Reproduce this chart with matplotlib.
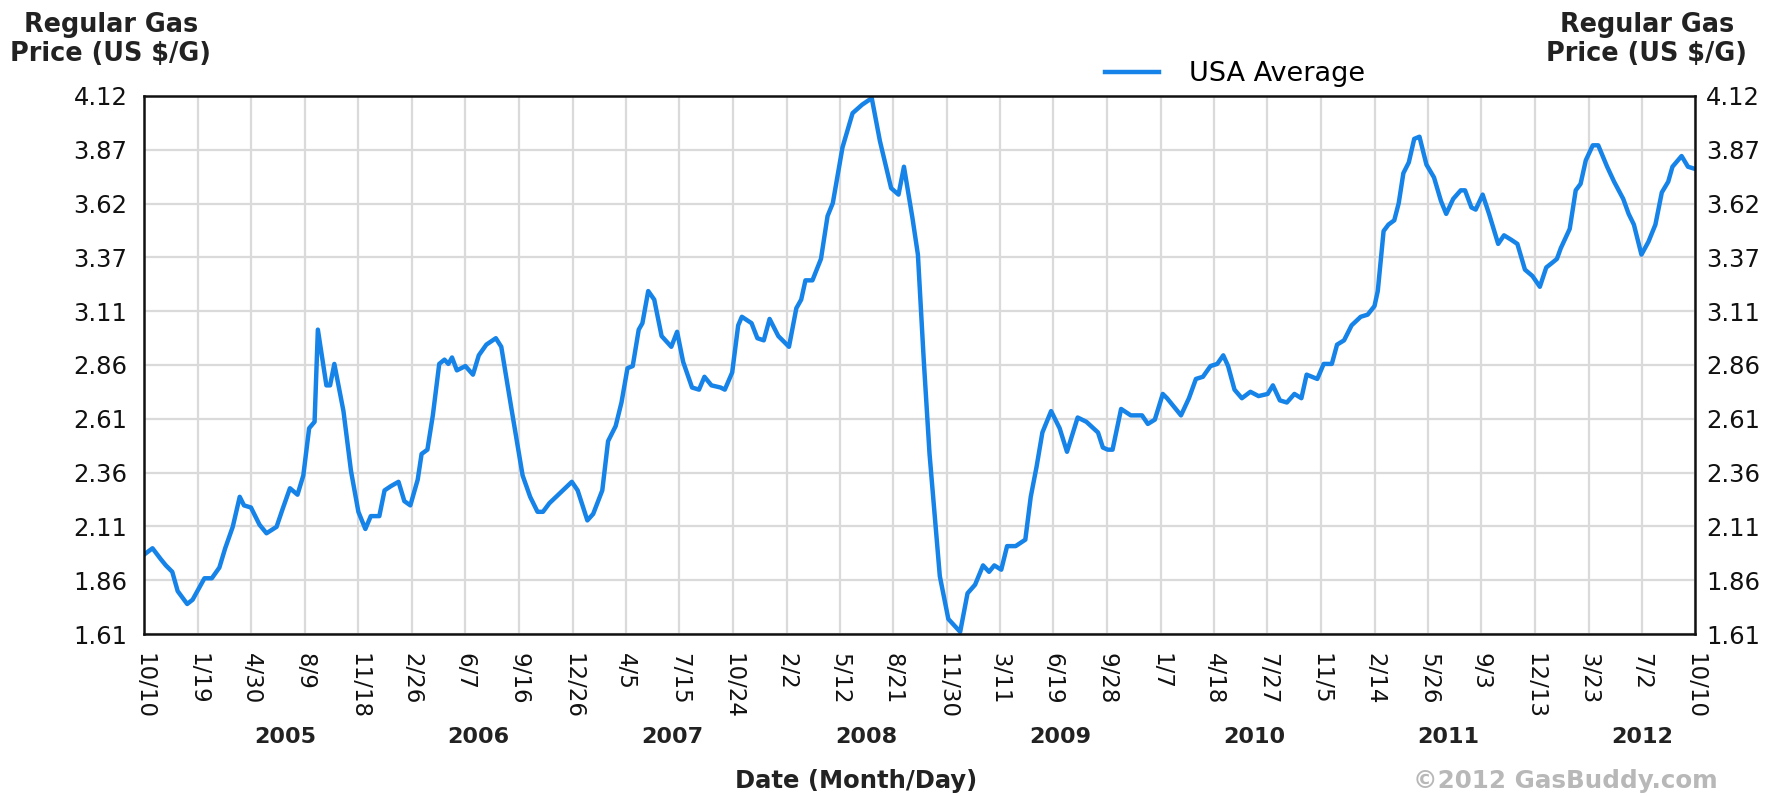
import pandas as pd
import matplotlib
matplotlib.use('Agg')
import matplotlib.pyplot as plt

# weekly-ish USA average regular gas price (decimal year, $/gal)
years = [2004.773, 2004.817, 2004.859, 2004.886, 2004.919, 2004.947, 2004.996, 2005.024,
         2005.085, 2005.123, 2005.162, 2005.192, 2005.231, 2005.267, 2005.289, 2005.325,
         2005.369, 2005.405, 2005.457, 2005.487, 2005.526, 2005.565, 2005.595, 2005.625,
         2005.653, 2005.670, 2005.714, 2005.733, 2005.755, 2005.802, 2005.841, 2005.879,
         2005.915, 2005.943, 2005.987, 2006.014, 2006.047, 2006.086, 2006.116, 2006.147,
         2006.185, 2006.205, 2006.235, 2006.263, 2006.296, 2006.323, 2006.343, 2006.362,
         2006.387, 2006.431, 2006.470, 2006.500, 2006.539, 2006.588, 2006.616, 2006.665,
         2006.726, 2006.765, 2006.803, 2006.831, 2006.864, 2006.922, 2006.980, 2007.010,
         2007.060, 2007.090, 2007.137, 2007.167, 2007.206, 2007.236, 2007.267, 2007.294,
         2007.325, 2007.344, 2007.374, 2007.405, 2007.443, 2007.493, 2007.523, 2007.554,
         2007.600, 2007.636, 2007.664, 2007.700, 2007.747, 2007.769, 2007.807, 2007.838,
         2007.857, 2007.907, 2007.937, 2007.970, 2008.000, 2008.045, 2008.100, 2008.138,
         2008.163, 2008.185, 2008.221, 2008.265, 2008.299, 2008.326, 2008.376, 2008.428,
         2008.478, 2008.527, 2008.569, 2008.627, 2008.665, 2008.693, 2008.737, 2008.765,
         2008.795, 2008.825, 2008.878, 2008.922, 2008.983, 2009.021, 2009.060, 2009.101,
         2009.132, 2009.159, 2009.195, 2009.225, 2009.269, 2009.319, 2009.347, 2009.377,
         2009.407, 2009.452, 2009.496, 2009.534, 2009.589, 2009.634, 2009.694, 2009.719,
         2009.744, 2009.769, 2009.813, 2009.863, 2009.921, 2009.951, 2009.987, 2010.028,
         2010.050, 2010.122, 2010.163, 2010.199, 2010.235, 2010.274, 2010.309, 2010.340,
         2010.365, 2010.398, 2010.436, 2010.480, 2010.522, 2010.569, 2010.596, 2010.632,
         2010.668, 2010.707, 2010.743, 2010.770, 2010.825, 2010.858, 2010.900, 2010.927,
         2010.963, 2011.002, 2011.049, 2011.085, 2011.120, 2011.137, 2011.167, 2011.192,
         2011.222, 2011.245, 2011.269, 2011.297, 2011.325, 2011.352, 2011.388, 2011.427,
         2011.463, 2011.490, 2011.526, 2011.565, 2011.587, 2011.620, 2011.642, 2011.678,
         2011.711, 2011.758, 2011.788, 2011.824, 2011.857, 2011.896, 2011.935, 2011.973,
         2012.006, 2012.034, 2012.061, 2012.081, 2012.127, 2012.158, 2012.183, 2012.210,
         2012.246, 2012.274, 2012.320, 2012.356, 2012.403, 2012.431, 2012.458, 2012.497,
         2012.533, 2012.569, 2012.602, 2012.635, 2012.657, 2012.704, 2012.737, 2012.773]

prices = [1.98, 2.01, 1.96, 1.93, 1.90, 1.81, 1.75, 1.77,
          1.87, 1.87, 1.92, 2.01, 2.11, 2.25, 2.21, 2.20,
          2.12, 2.08, 2.11, 2.19, 2.29, 2.26, 2.35, 2.57,
          2.60, 3.03, 2.77, 2.77, 2.87, 2.65, 2.37, 2.18,
          2.10, 2.16, 2.16, 2.28, 2.30, 2.32, 2.23, 2.21,
          2.33, 2.45, 2.47, 2.63, 2.87, 2.89, 2.87, 2.90,
          2.84, 2.86, 2.82, 2.91, 2.96, 2.99, 2.95, 2.68,
          2.35, 2.25, 2.18, 2.18, 2.22, 2.27, 2.32, 2.28,
          2.14, 2.17, 2.28, 2.51, 2.58, 2.69, 2.85, 2.86,
          3.03, 3.06, 3.21, 3.17, 3.00, 2.95, 3.02, 2.88,
          2.76, 2.75, 2.81, 2.77, 2.76, 2.75, 2.83, 3.05,
          3.09, 3.06, 2.99, 2.98, 3.08, 3.00, 2.95, 3.13,
          3.17, 3.26, 3.26, 3.36, 3.56, 3.62, 3.88, 4.04,
          4.08, 4.11, 3.91, 3.69, 3.66, 3.79, 3.55, 3.38,
          2.89, 2.45, 1.88, 1.68, 1.62, 1.80, 1.84, 1.93,
          1.90, 1.93, 1.91, 2.02, 2.02, 2.05, 2.25, 2.39,
          2.55, 2.65, 2.57, 2.46, 2.62, 2.60, 2.55, 2.48,
          2.47, 2.47, 2.66, 2.63, 2.63, 2.59, 2.61, 2.73,
          2.71, 2.63, 2.71, 2.80, 2.81, 2.86, 2.87, 2.91,
          2.86, 2.75, 2.71, 2.74, 2.72, 2.73, 2.77, 2.70,
          2.69, 2.73, 2.71, 2.82, 2.80, 2.87, 2.87, 2.96,
          2.98, 3.05, 3.09, 3.10, 3.14, 3.21, 3.49, 3.52,
          3.54, 3.62, 3.76, 3.81, 3.92, 3.93, 3.80, 3.74,
          3.63, 3.57, 3.64, 3.68, 3.68, 3.60, 3.59, 3.66,
          3.57, 3.43, 3.47, 3.45, 3.43, 3.31, 3.28, 3.23,
          3.32, 3.34, 3.36, 3.41, 3.50, 3.68, 3.71, 3.82,
          3.89, 3.89, 3.79, 3.72, 3.64, 3.57, 3.52, 3.38,
          3.44, 3.52, 3.67, 3.72, 3.79, 3.84, 3.79, 3.78]

tick_dates = ['2004-10-10', '2005-01-19', '2005-04-30', '2005-08-09', '2005-11-18',
              '2006-02-26', '2006-06-07', '2006-09-16', '2006-12-26', '2007-04-05',
              '2007-07-15', '2007-10-24', '2008-02-02', '2008-05-12', '2008-08-21',
              '2008-11-30', '2009-03-11', '2009-06-19', '2009-09-28', '2010-01-07',
              '2010-04-18', '2010-07-27', '2010-11-05', '2011-02-14', '2011-05-26',
              '2011-09-03', '2011-12-13', '2012-03-23', '2012-07-02', '2012-10-10']
year_labels = [2005, 2006, 2007, 2008, 2009, 2010, 2011, 2012]
y_ticks = [1.61, 1.861, 2.112, 2.363, 2.614, 2.865, 3.116, 3.367, 3.618, 3.869, 4.12]
y_labels = ['1.61', '1.86', '2.11', '2.36', '2.61', '2.86', '3.11', '3.37', '3.62', '3.87', '4.12']


def dec_year(s):
    d = pd.Timestamp(s)
    n = 366 if d.is_leap_year else 365
    return d.year + (d.dayofyear - 1) / n


tick_x = [dec_year(s) for s in tick_dates]
tick_text = ['%d/%d' % (pd.Timestamp(s).month, pd.Timestamp(s).day) for s in tick_dates]

W, H = 1779, 796
fig = plt.figure(figsize=(W / 100, H / 100), dpi=100)
ax = fig.add_axes([144 / W, 1 - 634 / H, (1695 - 144) / W, (634 - 96) / H])

line_color = '#1683e8'
ax.plot(years, prices, color=line_color, lw=3.2, label='USA Average', solid_joinstyle='round')

ax.set_xlim(tick_x[0], tick_x[-1])
ax.set_ylim(1.61, 4.12)
ax.set_xticks(tick_x)
ax.set_xticklabels(tick_text, rotation=-90, va='top', ha='center', fontsize=16.5, color='#111111')
ax.set_yticks(y_ticks)
ax.set_yticklabels(y_labels, fontsize=17.5, color='#111111')
ax.tick_params(axis='both', length=0)
ax.tick_params(axis='x', pad=14)
ax.tick_params(axis='y', pad=12)
ax.grid(True, color='#dadada', lw=1.6)
ax.set_axisbelow(True)
for sp in ax.spines.values():
    sp.set_color('#111111')
    sp.set_linewidth(1.8)

ax2 = ax.twinx()
ax2.set_ylim(1.61, 4.12)
ax2.set_yticks(y_ticks)
ax2.set_yticklabels(y_labels, fontsize=17.5, color='#111111')
ax2.tick_params(axis='y', length=0, pad=8)
for sp in ax2.spines.values():
    sp.set_visible(False)

# year labels under the month/day ticks
for yr in year_labels:
    ax.text(yr + 0.5, -0.1914, str(yr), transform=ax.get_xaxis_transform(),
            ha='center', va='center', fontsize=16, fontweight='bold', color='#222222')

title = 'Regular Gas\nPrice (US $/G)'
fig.text(111 / W, 1 - 12 / H, title, ha='center', va='top', fontsize=18.4,
         fontweight='bold', color='#222222', linespacing=1.15)
fig.text(1647 / W, 1 - 12 / H, title, ha='center', va='top', fontsize=18.4,
         fontweight='bold', color='#222222', linespacing=1.15)

fig.text(856 / W, 1 - 781 / H, 'Date (Month/Day)', ha='center', va='center',
         fontsize=17.5, fontweight='bold', color='#222222')
fig.text(1565 / W, 1 - 781 / H, '©2012 GasBuddy.com', ha='center', va='center',
         fontsize=17.7, fontweight='bold', color='#b8b8b8')

ax.legend(loc='center left', bbox_to_anchor=(1105 / W, 1 - 74 / H),
          bbox_transform=fig.transFigure, frameon=False, fontsize=19.5,
          handlelength=2.0, handletextpad=1.1, borderpad=0, borderaxespad=0)

fig.savefig('out.png', dpi=100, facecolor='white')
